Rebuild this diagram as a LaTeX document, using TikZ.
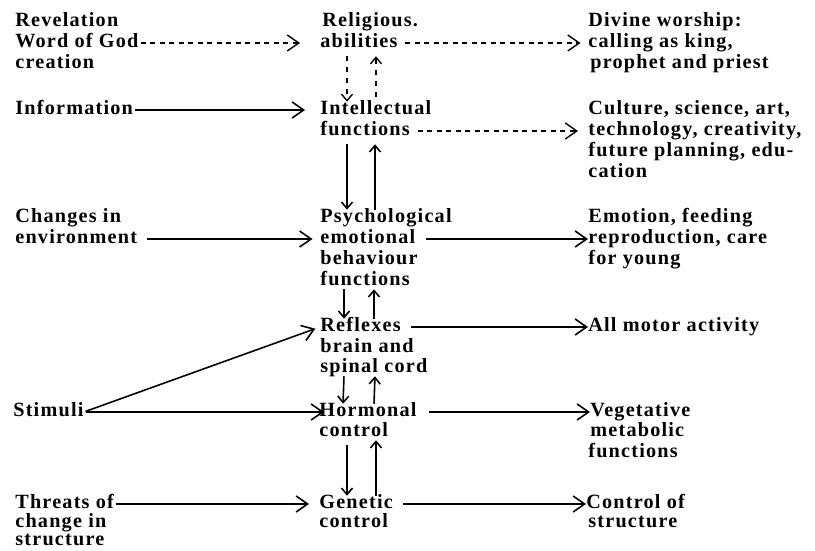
\documentclass[tikz,border=0pt]{standalone}
\usepackage{fontspec}
\setmainfont{Liberation Serif}[LetterSpace=6]
\usetikzlibrary{arrows.meta,calc}

\tikzset{
  txt/.style={anchor=west,inner sep=0pt,text height=7pt,text depth=2pt,
    font=\bfseries\fontsize{11.5}{12}\selectfont},
  link/.style={-{Straight Barb[length=2.3mm,width=3.2mm]},line width=0.9pt},
  dlink/.style={link,line width=0.8pt,dash pattern=on 1mm off 0.9mm},
  tiny/.style={-{Straight Barb[length=1.3mm,width=2.2mm]},line width=0.9pt},
  dtiny/.style={tiny,line width=0.8pt,dash pattern=on 1mm off 1.2mm},
}

\begin{document}
\begin{tikzpicture}[x=0.02cm,y=-0.02cm]
  \useasboundingbox (0,0) rectangle (815,551);

  % sources
  \node[txt] (rev) at (15,22) {Revelation};
  \node[txt] (god) at (15,43) {Word of God};
  \node[txt] (crea) at (15,64) {creation};
  \node[txt] (info) at (15,110) {Information};
  \node[txt] (chg) at (15,218) {Changes in};
  \node[txt] (env) at (15,239) {environment};
  \node[txt] (stim) at (13,412) {Stimuli};
  \node[txt] (thr) at (15,504) {Threats of};
  \node[txt] (chin) at (15,523) {change in};
  \node[txt] (struc) at (15,541) {structure};

  % levels
  \node[txt] (relig) at (322,22) {Religious.};
  \node[txt] (abil) at (320,43) {abilities};
  \node[txt] (intel) at (320,110) {Intellectual};
  \node[txt] (ifunc) at (320,131) {functions};
  \node[txt] (psych) at (320,218) {Psychological};
  \node[txt] (emot) at (320,239) {emotional};
  \node[txt] (behav) at (320,260) {behaviour};
  \node[txt] (pfunc) at (320,281) {functions};
  \node[txt] (refl) at (320,327) {Reflexes};
  \node[txt] (brain) at (320,348) {brain and};
  \node[txt] (spin) at (320,368) {spinal cord};
  \node[txt] (horm) at (319,412) {Hormonal};
  \node[txt] (hctl) at (319,432) {control};
  \node[txt] (gen) at (319,504) {Genetic};
  \node[txt] (gctl) at (319,523) {control};

  % outcomes
  \node[txt] (div) at (588,22) {Divine worship:};
  \node[txt] (king) at (588,43) {calling as king,};
  \node[txt] (proph) at (590,64) {prophet and priest};
  \node[txt] (cult) at (588,110) {Culture, science, art,};
  \node[txt] (tech) at (588,131) {technology, creativity,};
  \node[txt] (fut) at (588,152) {future planning, edu-};
  \node[txt] (cat) at (588,173) {cation};
  \node[txt] (feed) at (588,218) {Emotion, feeding};
  \node[txt] (repro) at (588,239) {reproduction, care};
  \node[txt] (young) at (588,260) {for young};
  \node[txt] (motor) at (588,327) {All motor activity};
  \node[txt] (veg) at (590,412) {Vegetative};
  \node[txt] (meta) at (590,432) {metabolic};
  \node[txt] (vfunc) at (588,453) {functions};
  \node[txt] (cstr) at (586,504) {Control of};
  \node[txt] (sstr) at (588,523) {structure};

  % horizontal links
  \draw[dlink,shorten <=1pt,shorten >=4mm] (god) -- (abil);
  \draw[dlink,shorten <=1.5mm,shorten >=1.5mm] (abil) -- (king);
  \draw[link,shorten <=1pt,shorten >=3mm] (info) -- (intel);
  \draw[dlink,shorten <=1.5mm,shorten >=2mm] (ifunc) -- (tech);
  \draw[link,shorten <=2mm,shorten >=1.5mm] (env) -- (emot);
  \draw[link,shorten <=2mm,shorten >=0pt] (emot) -- (repro);
  \draw[link,shorten <=2mm,shorten >=0pt] (refl) -- (motor);
  \draw[link,shorten <=1pt,shorten >=1mm] (stim.east) -- (refl.west);
  \draw[link,shorten <=1pt,shorten >=-1mm] (stim) -- (horm);
  \draw[link,shorten <=2.5mm,shorten >=0pt] (horm) -- (veg);
  \draw[link,shorten <=1pt,shorten >=2mm] (thr) -- (gen);
  \draw[link,shorten <=2mm,shorten >=0pt] (gen) -- (cstr);

  % vertical links
  \draw[dtiny,shorten <=1mm] ($(abil.south west)+(27,0)$) -- ($(intel.north west)+(27,0)$);
  \draw[dtiny,shorten <=1mm,shorten >=1mm] ($(intel.north west)+(56,0)$) -- ($(abil.south west)+(56,0)$);
  \draw[tiny,shorten <=1mm] ($(ifunc.south west)+(27,0)$) -- ($(psych.north west)+(27,0)$);
  \draw[tiny,shorten >=1mm] ($(psych.north west)+(55,0)$) -- ($(ifunc.south west)+(55,0)$);
  \draw[tiny] ($(pfunc.south west)+(24,0)$) -- ($(refl.north west)+(24,0)$);
  \draw[tiny] ($(refl.north west)+(54,0)$) -- ($(pfunc.south west)+(54,0)$);
  \draw[tiny] ($(spin.south west)+(24,0)$) -- ($(horm.north west)+(24,0)$);
  \draw[tiny] ($(horm.north west)+(55,0)$) -- ($(spin.south west)+(55,0)$);
  \draw[tiny,shorten <=1mm] ($(hctl.south west)+(28,0)$) -- ($(gen.north west)+(28,0)$);
  \draw[tiny] ($(gen.north west)+(57,0)$) -- ($(hctl.south west)+(57,0)$);
\end{tikzpicture}
\end{document}
